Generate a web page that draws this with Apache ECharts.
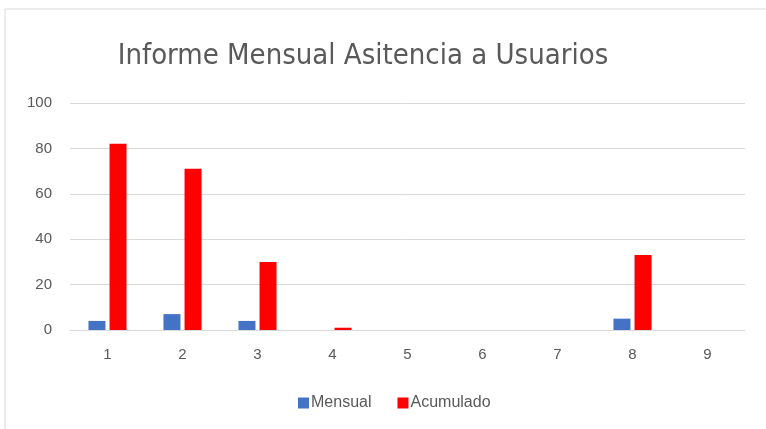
<!DOCTYPE html>
<html>
<head>
<meta charset="utf-8">
<script src="https://cdn.jsdelivr.net/npm/echarts@6/dist/echarts.min.js"></script>
<style>
    html, body { margin: 0; padding: 0; background: #fff; }
    #chart { width: 766px; height: 429px; }
</style>
</head>
<body>
<div id="chart"></div>
<script>
var categories = ["1", "2", "3", "4", "5", "6", "7", "8", "9"];
var mensual = [4, 7, 4, 0, 0, 0, 0, 5, 0];
var acumulado = [82, 71, 30, 1, 0, 0, 0, 33, 0];

var myChart = echarts.init(document.getElementById("chart"));
var textColor = "#595959";
var option = {
    backgroundColor: "#fff",
    graphic: [{
        type: "rect",
        shape: { x: 5, y: 9, width: 800, height: 500 },
        style: { fill: "none", stroke: "#d9d9d9", lineWidth: 1 },
        silent: true
    }],
    title: {
        text: "Informe Mensual Asitencia a Usuarios",
        left: 358,
        textAlign: "center",
        top: 37,
        textStyle: {
            fontFamily: "Liberation Sans Narrow, DejaVu Sans Condensed, sans-serif",
            fontSize: 29,
            fontWeight: "normal",
            color: textColor
        }
    },
    legend: {
        data: ["Mensual", "Acumulado"],
        left: 293,
        top: 390,
        itemWidth: 11,
        itemHeight: 11,
        itemGap: 26,
        icon: "rect",
        textStyle: {
            fontFamily: "Liberation Sans, sans-serif",
            fontSize: 16,
            color: textColor,
            padding: [0, 0, 0, -3]
        }
    },
    grid: {
        left: 70,
        right: 21,
        top: 103,
        bottom: 99
    },
    xAxis: {
        type: "category",
        data: categories,
        axisLine: { lineStyle: { color: "#d9d9d9", width: 1 } },
        axisTick: { show: false },
        axisLabel: {
            color: textColor,
            fontSize: 15,
            margin: 17,
            fontFamily: "Liberation Sans, sans-serif"
        }
    },
    yAxis: {
        type: "value",
        min: 0,
        max: 100,
        interval: 20,
        axisLine: { show: false },
        axisTick: { show: false },
        splitLine: { lineStyle: { color: "#d9d9d9", width: 1 } },
        axisLabel: {
            color: textColor,
            fontSize: 15,
            margin: 18,
            fontFamily: "Liberation Sans, sans-serif"
        }
    },
    series: [{
        name: "Mensual",
        type: "bar",
        data: mensual,
        barWidth: 17,
        barGap: "24%",
        itemStyle: { color: "#4472C4" }
    }, {
        name: "Acumulado",
        type: "bar",
        data: acumulado,
        barWidth: 17,
        barGap: "24%",
        itemStyle: { color: "#FF0000" }
    }]
};
myChart.setOption(option);
</script>
</body>
</html>
